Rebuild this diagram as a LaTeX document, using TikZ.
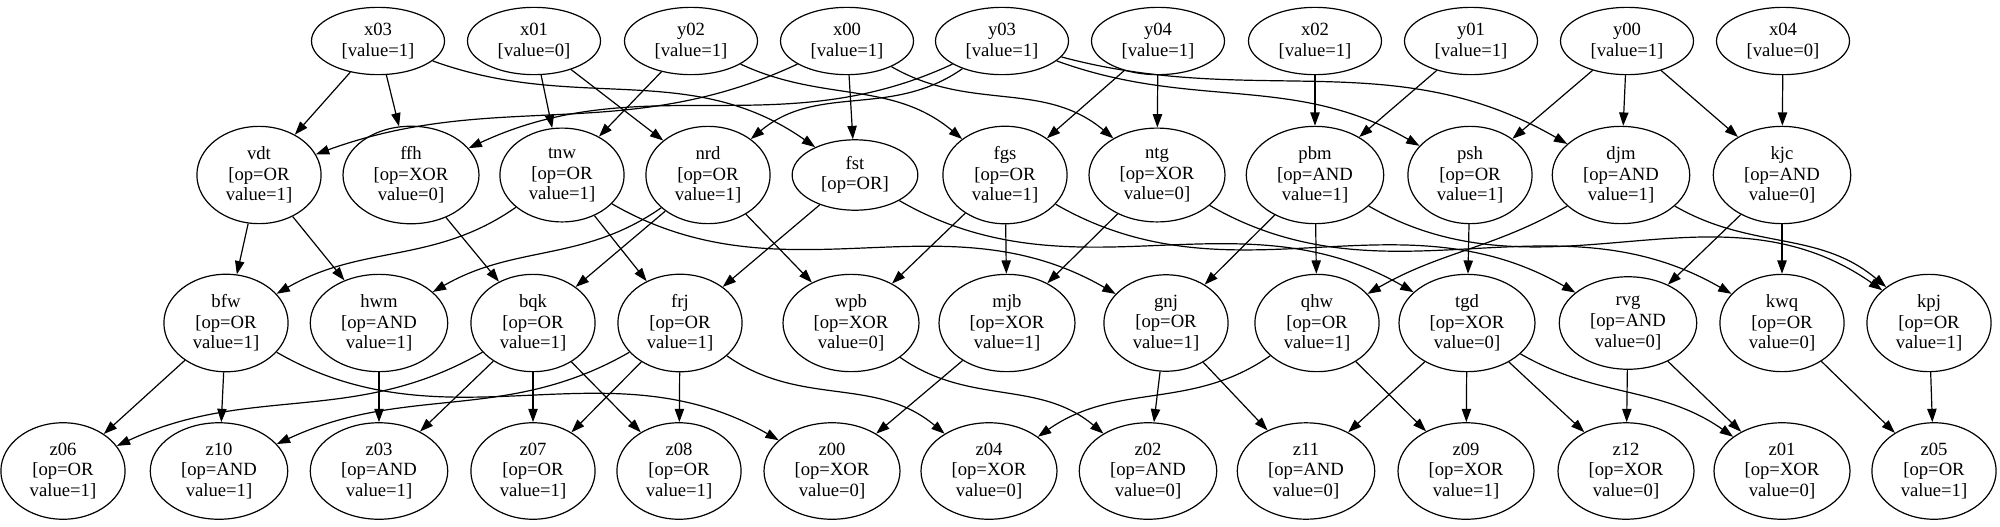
\documentclass[tikz,border=0pt]{standalone}
\usepackage{fontspec}
\setmainfont{Liberation Serif}
\usepackage{tikz}
\usetikzlibrary{shapes.geometric,arrows.meta}

\begin{document}
\begin{tikzpicture}[x=0.75pt,y=-0.75pt,
		innode/.style={draw,ellipse,line width=0.9pt,align=center,inner xsep=8pt,inner ysep=4.5pt,font=\fontsize{14}{15.5}\selectfont},
		gatenode/.style={innode},
		link/.style={line width=0.9pt,-{Triangle[length=10pt,width=7pt]}}]
		\useasboundingbox (0,0) rectangle (2000,526);
		% inputs
		\node[innode] (x03) at (378,41) {x03\\{[}value=1]};
		\node[innode] (x01) at (534,41) {x01\\{[}value=0]};
		\node[innode] (y02) at (691,41) {y02\\{[}value=1]};
		\node[innode] (x00) at (847,41) {x00\\{[}value=1]};
		\node[innode] (y03) at (1002,41) {y03\\{[}value=1]};
		\node[innode] (y04) at (1158,41) {y04\\{[}value=1]};
		\node[innode] (x02) at (1315,41) {x02\\{[}value=1]};
		\node[innode] (y01) at (1471,41) {y01\\{[}value=1]};
		\node[innode] (y00) at (1627,41) {y00\\{[}value=1]};
		\node[innode] (x04) at (1783,41) {x04\\{[}value=0]};
		% first gates
		\node[gatenode] (vdt) at (259,175) {vdt\\{[}op=OR\\value=1]};
		\node[gatenode] (ffh) at (411,175) {ffh\\{[}op=XOR\\value=0]};
		\node[gatenode] (tnw) at (562,175) {tnw\\{[}op=OR\\value=1]};
		\node[gatenode] (nrd) at (708,175) {nrd\\{[}op=OR\\value=1]};
		\node[gatenode] (fst) at (855,175) {fst\\{[}op=OR]};
		\node[gatenode] (fgs) at (1005,175) {fgs\\{[}op=OR\\value=1]};
		\node[gatenode] (ntg) at (1157,175) {ntg\\{[}op=XOR\\value=0]};
		\node[gatenode] (pbm) at (1315,175) {pbm\\{[}op=AND\\value=1]};
		\node[gatenode] (psh) at (1470,175) {psh\\{[}op=OR\\value=1]};
		\node[gatenode] (djm) at (1621,175) {djm\\{[}op=AND\\value=1]};
		\node[gatenode] (kjc) at (1782,175) {kjc\\{[}op=AND\\value=0]};
		% second gates
		\node[gatenode] (bfw) at (226,323) {bfw\\{[}op=OR\\value=1]};
		\node[gatenode] (hwm) at (379,323) {hwm\\{[}op=AND\\value=1]};
		\node[gatenode] (bqk) at (533,323) {bqk\\{[}op=OR\\value=1]};
		\node[gatenode] (frj) at (680,323) {frj\\{[}op=OR\\value=1]};
		\node[gatenode] (wpb) at (851,323) {wpb\\{[}op=XOR\\value=0]};
		\node[gatenode] (mjb) at (1007,323) {mjb\\{[}op=XOR\\value=1]};
		\node[gatenode] (gnj) at (1166,323) {gnj\\{[}op=OR\\value=1]};
		\node[gatenode] (qhw) at (1317,323) {qhw\\{[}op=OR\\value=1]};
		\node[gatenode] (tgd) at (1467,323) {tgd\\{[}op=XOR\\value=0]};
		\node[gatenode] (rvg) at (1628,323) {rvg\\{[}op=AND\\value=0]};
		\node[gatenode] (kwq) at (1782,323) {kwq\\{[}op=OR\\value=0]};
		\node[gatenode] (kpj) at (1929,323) {kpj\\{[}op=OR\\value=1]};
		% outputs
		\node[gatenode] (z06) at (63,471) {z06\\{[}op=OR\\value=1]};
		\node[gatenode] (z10) at (219,471) {z10\\{[}op=AND\\value=1]};
		\node[gatenode] (z03) at (379,471) {z03\\{[}op=AND\\value=1]};
		\node[gatenode] (z07) at (533,471) {z07\\{[}op=OR\\value=1]};
		\node[gatenode] (z08) at (679,471) {z08\\{[}op=OR\\value=1]};
		\node[gatenode] (z00) at (832,471) {z00\\{[}op=XOR\\value=0]};
		\node[gatenode] (z04) at (989,471) {z04\\{[}op=XOR\\value=0]};
		\node[gatenode] (z02) at (1148,471) {z02\\{[}op=AND\\value=0]};
		\node[gatenode] (z11) at (1306,471) {z11\\{[}op=AND\\value=0]};
		\node[gatenode] (z09) at (1466,471) {z09\\{[}op=XOR\\value=1]};
		\node[gatenode] (z12) at (1626,471) {z12\\{[}op=XOR\\value=0]};
		\node[gatenode] (z01) at (1782,471) {z01\\{[}op=XOR\\value=0]};
		\node[gatenode] (z05) at (1934,471) {z05\\{[}op=OR\\value=1]};

		% inputs -> first gates
		\draw[link] (x03) -- (vdt);
		\draw[link] (x03) -- (ffh);
		\draw[link] (x03) to[out=-20,in=145] (fst);
		\draw[link] (x01) -- (tnw);
		\draw[link] (x01) -- (nrd);
		\draw[link] (y02) -- (tnw);
		\draw[link] (y02) to[out=-25,in=140] (fgs);
		\draw[link] (x00) to[out=-155,in=20] (vdt);
		\draw[link] (x00) -- (fst);
		\draw[link] (x00) to[out=-30,in=140] (ntg);
		\draw[link] (y03) to[out=-155,in=25] (ffh);
		\draw[link] (y03) to[out=-145,in=40] (nrd);
		\draw[link] (y03) to[out=-20,in=150] (psh);
		\draw[link] (y03) to[out=-15,in=150] (djm);
		\draw[link] (y04) -- (fgs);
		\draw[link] (y04) -- (ntg);
		\draw[link] (x02) -- (pbm);
		\draw[link] (y01) -- (pbm);
		\draw[link] (y00) -- (psh);
		\draw[link] (y00) -- (djm);
		\draw[link] (y00) -- (kjc);
		\draw[link] (x04) -- (kjc);
		% first -> second
		\draw[link] (vdt) -- (bfw);
		\draw[link] (vdt) -- (hwm);
		\draw[link] (ffh) -- (bqk);
		\draw[link] (tnw) to[out=-145,in=30] (bfw);
		\draw[link] (tnw) -- (frj);
		\draw[link] (tnw) to[out=-30,in=150] (gnj);
		\draw[link] (nrd) to[out=-145,in=30] (hwm);
		\draw[link] (nrd) -- (bqk);
		\draw[link] (nrd) -- (wpb);
		\draw[link] (fst) -- (frj);
		\draw[link] (fst) to[out=-30,in=150] (tgd);
		\draw[link] (fgs) -- (wpb);
		\draw[link] (fgs) -- (mjb);
		\draw[link] (fgs) to[out=-30,in=150] (rvg);
		\draw[link] (ntg) -- (mjb);
		\draw[link] (ntg) to[out=-30,in=150] (kwq);
		\draw[link] (pbm) -- (gnj);
		\draw[link] (pbm) -- (qhw);
		\draw[link] (pbm) to[out=-30,in=145] (kpj);
		\draw[link] (psh) -- (tgd);
		\draw[link] (djm) to[out=-150,in=30] (qhw);
		\draw[link] (djm) to[out=-30,in=140] (kpj);
		\draw[link] (kjc) -- (rvg);
		\draw[link] (kjc) -- (kwq);
		% second -> outputs
		\draw[link] (bfw) -- (z06);
		\draw[link] (bfw) -- (z10);
		\draw[link] (bfw) to[out=-30,in=150] (z00);
		\draw[link] (hwm) -- (z03);
		\draw[link] (bqk) to[out=-150,in=25] (z06);
		\draw[link] (bqk) -- (z03);
		\draw[link] (bqk) -- (z07);
		\draw[link] (bqk) -- (z08);
		\draw[link] (frj) to[out=-150,in=25] (z10);
		\draw[link] (frj) -- (z07);
		\draw[link] (frj) -- (z08);
		\draw[link] (frj) to[out=-35,in=140] (z04);
		\draw[link] (wpb) to[out=-35,in=140] (z02);
		\draw[link] (mjb) -- (z00);
		\draw[link] (gnj) -- (z02);
		\draw[link] (gnj) -- (z11);
		\draw[link] (qhw) to[out=-145,in=35] (z04);
		\draw[link] (qhw) -- (z09);
		\draw[link] (tgd) -- (z11);
		\draw[link] (tgd) -- (z09);
		\draw[link] (tgd) -- (z12);
		\draw[link] (tgd) to[out=-30,in=145] (z01);
		\draw[link] (rvg) -- (z12);
		\draw[link] (rvg) -- (z01);
		\draw[link] (kwq) -- (z05);
		\draw[link] (kpj) -- (z05);
\end{tikzpicture}
\end{document}
